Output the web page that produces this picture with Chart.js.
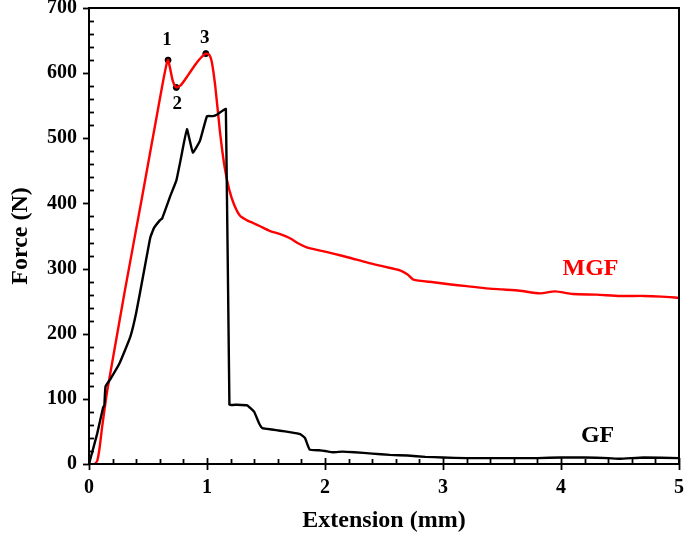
<!DOCTYPE html>
<html>
<head>
<meta charset="utf-8">
<script src="https://cdn.jsdelivr.net/npm/chart.js@4.4.1/dist/chart.umd.min.js"></script>
<style>
  html, body { margin: 0; padding: 0; background: #fff; }
  #wrap { width: 685px; height: 538px; position: relative; }
</style>
</head>
<body>
<div id="wrap"><canvas id="forceChart"></canvas></div>
<script>
// --- DATA ---
const mgfX = [0.05, 0.07, 0.09, 0.11, 0.144, 0.16, 0.30, 0.45, 0.58, 0.62, 0.655, 0.67, 0.69, 0.71, 0.74, 0.78, 0.84, 0.90, 0.95, 0.99, 1.02, 1.04, 1.07, 1.11, 1.15, 1.19, 1.23, 1.28, 1.34, 1.39, 1.45, 1.53, 1.62, 1.70, 1.78, 1.85, 1.95, 2.07, 2.20, 2.36, 2.50, 2.64, 2.70, 2.75, 2.92, 3.05, 3.20, 3.35, 3.50, 3.65, 3.82, 3.95, 4.10, 4.30, 4.50, 4.70, 4.85, 5.00];
const mgfY = [0, 5, 25, 55, 100, 118, 262, 410, 540, 580, 612, 620, 605, 588, 578, 582, 597, 613, 624, 630, 628, 618, 580, 510, 455, 420, 398, 381, 374, 370, 365, 358, 353, 347, 338, 332, 328, 323, 317, 309, 303, 297, 291, 283, 279, 276, 273, 270, 268, 266, 262, 265, 261, 260, 258, 258, 257, 255];

const gfX = [0.00, 0.03, 0.07, 0.12, 0.13, 0.14, 0.18, 0.26, 0.35, 0.40, 0.46, 0.52, 0.55, 0.60, 0.62, 0.69, 0.74, 0.78, 0.83, 0.88, 0.94, 1.00, 1.05, 1.09, 1.16, 1.19, 1.25, 1.34, 1.40, 1.44, 1.47, 1.55, 1.62, 1.70, 1.79, 1.83, 1.87, 1.95, 2.00, 2.07, 2.15, 2.25, 2.40, 2.55, 2.70, 2.85, 3.00, 3.20, 3.50, 3.80, 4.00, 4.20, 4.40, 4.50, 4.70, 5.00];
const gfY = [0, 20, 47, 87, 90, 119, 130, 155, 195, 232, 290, 348, 362, 374, 377, 412, 435, 470, 514, 478, 496, 534, 534, 537, 545, 91, 91, 90, 80, 63, 55, 53, 51, 49, 46, 40, 22, 21, 20, 18, 19, 18, 16, 14, 13, 11, 10, 9, 9, 9, 10, 10, 9, 8, 10, 9];

// marked points on the MGF curve
const markX = [0.67, 0.74, 0.99];
const markY = [620, 578, 630];
const markLabels = ['1', '2', '3'];

const xTicks = [0, 1, 2, 3, 4, 5];
const yTicks = [0, 100, 200, 300, 400, 500, 600, 700];

const FONT = '"Liberation Serif", "Times New Roman", serif';

function toPoints(xs, ys) {
    return xs.map((x, i) => ({ x: x, y: ys[i] }));
}

// --- FRAME, TICKS, ANNOTATIONS ---
const framePlugin = {
    id: 'frame',
    afterDraw(chart) {
        const c = chart.ctx;
        const a = chart.chartArea;
        const xs = chart.scales.x;
        const ys = chart.scales.y;
        c.save();
        c.strokeStyle = '#000';
        c.lineWidth = 2;
        c.strokeRect(a.left, a.top, a.right - a.left, a.bottom - a.top);

        // x ticks: major crosses axis, minor inward
        c.lineWidth = 1.8;
        for (let v = 0; v <= 5.0001; v += 0.2) {
            const px = Math.round(xs.getPixelForValue(v)) + 0.5;
            const major = Math.abs(v - Math.round(v)) < 1e-6;
            c.beginPath();
            c.moveTo(px, a.bottom + (major ? 6 : 0));
            c.lineTo(px, a.bottom - (major ? 6 : 5));
            c.stroke();
        }
        // y ticks
        for (let v = 0; v <= 700.001; v += 20) {
            const py = Math.round(ys.getPixelForValue(v)) + 0.5;
            const major = v % 100 === 0;
            c.beginPath();
            c.moveTo(a.left - (major ? 6 : 0), py);
            c.lineTo(a.left + (major ? 0 : 5), py);
            c.stroke();
        }

        // point labels
        c.fillStyle = '#000';
        c.font = 'bold 19px ' + FONT;
        c.textAlign = 'center';
        c.textBaseline = 'middle';
        const offs = [-20, 17, -16];
        markX.forEach((x, i) => {
            const px = xs.getPixelForValue(x);
            const py = ys.getPixelForValue(markY[i]);
            c.fillText(markLabels[i], px - (i === 1 ? -1 : 1), py + offs[i]);
        });

        // series labels
        c.font = 'bold 24px ' + FONT;
        c.fillStyle = '#ff0000';
        c.fillText('MGF', xs.getPixelForValue(4.25), ys.getPixelForValue(300));
        c.fillStyle = '#000';
        c.fillText('GF', xs.getPixelForValue(4.31), ys.getPixelForValue(44));
        c.restore();
    }
};

const ctx = document.getElementById('forceChart').getContext('2d');
const forceChart = new Chart(ctx, {
    type: 'scatter',
    data: {
        datasets: [{
            label: 'GF',
            data: toPoints(gfX, gfY),
            showLine: true,
            borderColor: '#000000',
            borderWidth: 2.4,
            pointRadius: 0,
            tension: 0.1
        }, {
            label: 'MGF',
            data: toPoints(mgfX, mgfY),
            showLine: true,
            borderColor: '#ff0000',
            borderWidth: 2.4,
            pointRadius: 0,
            tension: 0.2
        }, {
            label: 'marks',
            data: toPoints(markX, markY),
            showLine: false,
            pointRadius: 3,
            pointBackgroundColor: '#000',
            pointBorderColor: '#000'
        }]
    },
    options: {
        responsive: true,
        maintainAspectRatio: false,
        animation: false,
        layout: { padding: { top: 8, right: 6, left: 0, bottom: 0 } },
        plugins: { legend: { display: false }, tooltip: { enabled: false } },
        scales: {
            x: {
                type: 'linear',
                min: 0, max: 5,
                afterFit: (s) => { s.height = 74; s.paddingLeft = 0; s.paddingRight = 0; },
                afterBuildTicks: (s) => { s.ticks = xTicks.map(v => ({ value: v })); },
                grid: { display: false, drawTicks: false },
                border: { display: false },
                ticks: { color: '#000', padding: 12, font: { family: FONT, size: 20, weight: 'bold' } },
                title: { display: true, text: 'Extension (mm)', color: '#000', padding: { top: 0, bottom: 3 },
                         font: { family: FONT, size: 24, weight: 'bold' } }
            },
            y: {
                type: 'linear',
                min: 0, max: 700,
                afterFit: (s) => { s.width = 89; s.paddingTop = 0; s.paddingBottom = 0; },
                afterBuildTicks: (s) => { s.ticks = yTicks.map(v => ({ value: v })); },
                grid: { display: false, drawTicks: false },
                border: { display: false },
                ticks: { color: '#000', padding: 12, font: { family: FONT, size: 20, weight: 'bold' } },
                title: { display: true, text: 'Force (N)', color: '#000', padding: { top: 6, bottom: 0 },
                         font: { family: FONT, size: 24, weight: 'bold' } }
            }
        }
    },
    plugins: [framePlugin]
});
</script>
</body>
</html>
